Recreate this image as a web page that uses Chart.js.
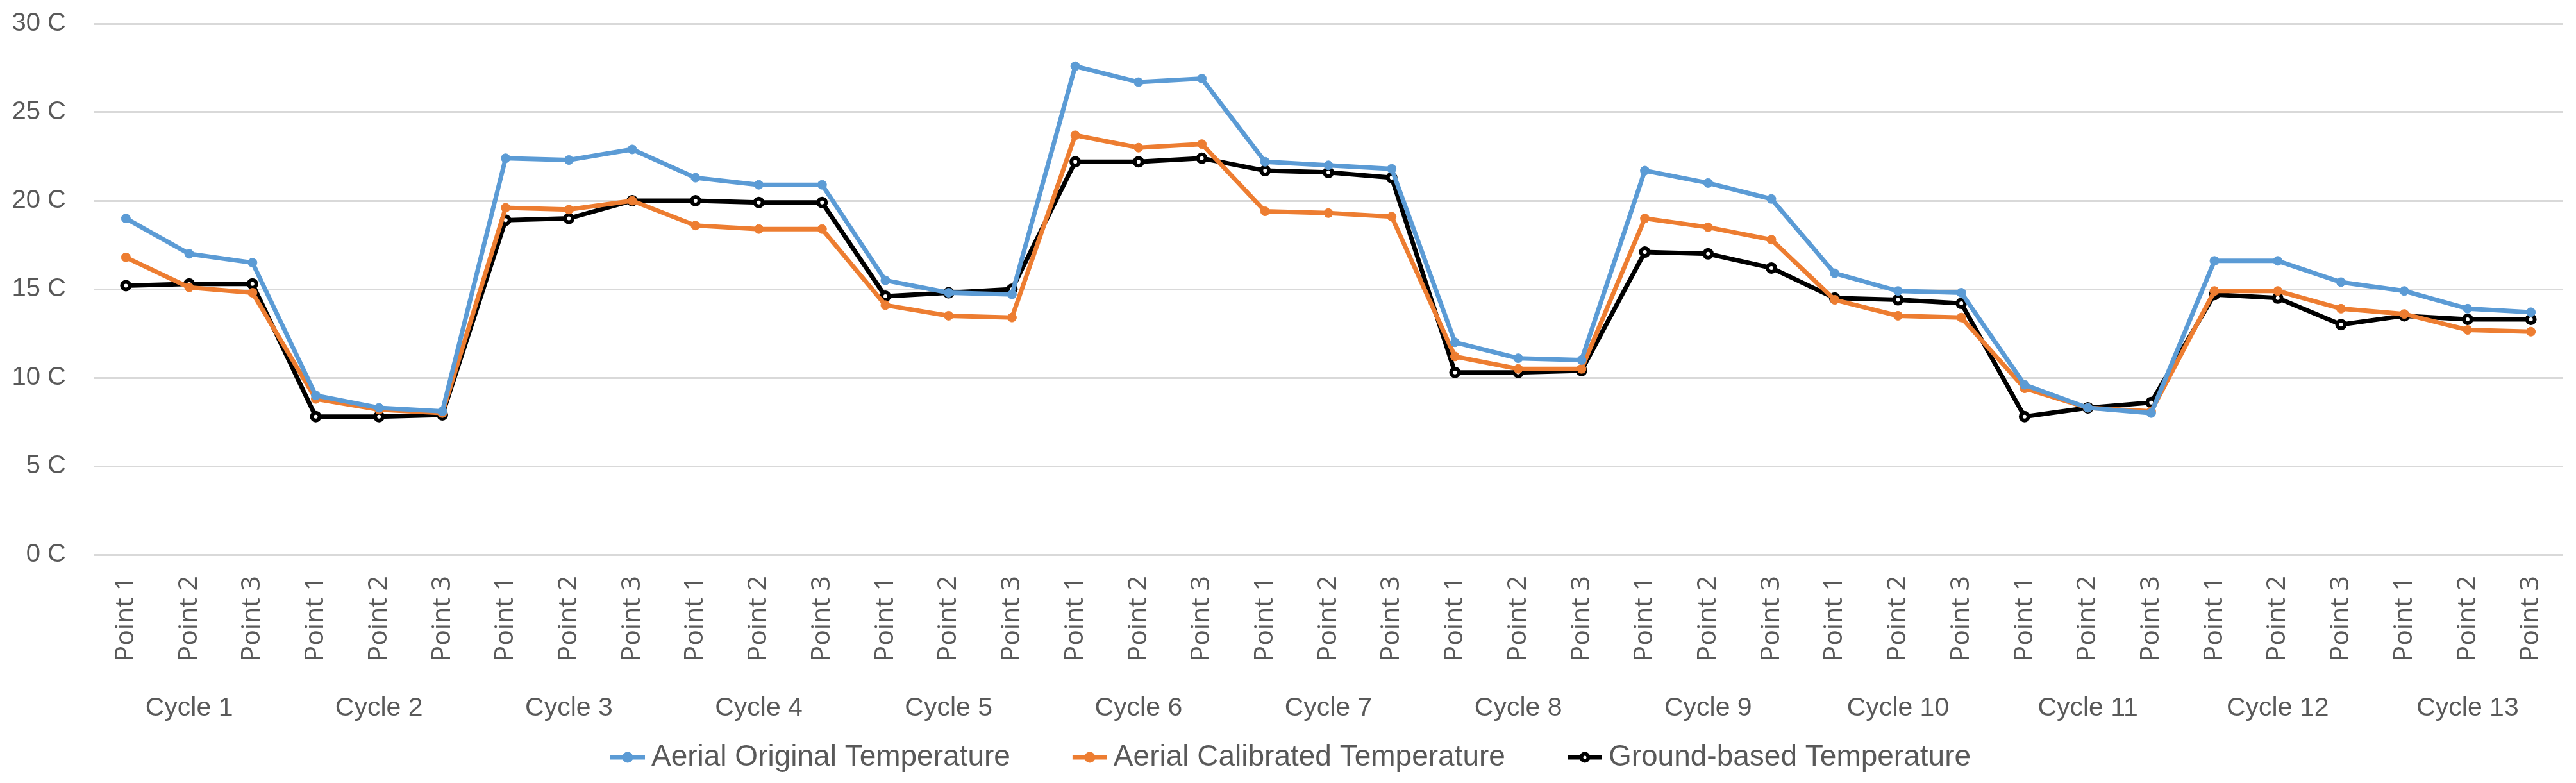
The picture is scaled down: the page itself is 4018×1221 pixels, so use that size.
<!DOCTYPE html>
<html lang="en">
<head>
  <meta charset="UTF-8" />
  <title>Aerial vs Ground Temperature</title>
  <script src="https://cdn.jsdelivr.net/npm/chart.js"></script>
  <style>
    html, body { margin: 0; padding: 0; background: #fff; overflow: hidden; }
    #wrap { width: 4018px; height: 1221px; }
    canvas { display: block; }
  </style>
</head>
<body>
  <div id="wrap"><canvas id="chart" width="4018" height="1221"></canvas></div>

  <script>
    const cycles = ['Cycle 1', 'Cycle 2', 'Cycle 3', 'Cycle 4', 'Cycle 5', 'Cycle 6', 'Cycle 7',
                    'Cycle 8', 'Cycle 9', 'Cycle 10', 'Cycle 11', 'Cycle 12', 'Cycle 13'];
    const pointNames = ['Point 1', 'Point 2', 'Point 3'];
    const yTicks = [0, 5, 10, 15, 20, 25, 30];

    const aerialOriginal = [
      19.0, 17.0, 16.5,   9.0, 8.3, 8.1,   22.4, 22.3, 22.9,   21.3, 20.9, 20.9,
      15.5, 14.8, 14.7,   27.6, 26.7, 26.9,   22.2, 22.0, 21.8,   12.0, 11.1, 11.0,
      21.7, 21.0, 20.1,   15.9, 14.9, 14.8,   9.6, 8.3, 8.0,   16.6, 16.6, 15.4,
      14.9, 13.9, 13.7
    ];
    const aerialCalibrated = [
      16.8, 15.1, 14.8,   8.8, 8.2, 8.0,   19.6, 19.5, 20.0,   18.6, 18.4, 18.4,
      14.1, 13.5, 13.4,   23.7, 23.0, 23.2,   19.4, 19.3, 19.1,   11.2, 10.5, 10.5,
      19.0, 18.5, 17.8,   14.4, 13.5, 13.4,   9.4, 8.3, 8.1,   14.9, 14.9, 13.9,
      13.6, 12.7, 12.6
    ];
    const groundBased = [
      15.2, 15.3, 15.3,   7.8, 7.8, 7.9,   18.9, 19.0, 20.0,   20.0, 19.9, 19.9,
      14.6, 14.8, 15.0,   22.2, 22.2, 22.4,   21.7, 21.6, 21.3,   10.3, 10.3, 10.4,
      17.1, 17.0, 16.2,   14.5, 14.4, 14.2,   7.8, 8.3, 8.6,   14.7, 14.5, 13.0,
      13.5, 13.3, 13.3
    ];

    const labels = cycles.flatMap(() => pointNames);
    const textColor = '#595959';
    const sans = '"Liberation Sans", Arial, sans-serif';

    // legend swatch: line with a dot, drawn at the right side of a wider image
    // so the legend gets Excel-like gaps between entries
    function swatch(color, fill) {
      const c = document.createElement('canvas');
      c.width = 142; c.height = 24;
      const g = c.getContext('2d');
      g.strokeStyle = color; g.lineWidth = 7;
      g.beginPath(); g.moveTo(88, 12); g.lineTo(142, 12); g.stroke();
      g.fillStyle = color;
      g.beginPath(); g.arc(115, 12, 8.5, 0, Math.PI * 2); g.fill();
      if (fill) { g.fillStyle = fill; g.beginPath(); g.arc(115, 12, 2.5, 0, Math.PI * 2); g.fill(); }
      return c;
    }

    function series(label, data, color, marker) {
      return {
        label, data,
        borderColor: color,
        backgroundColor: color,
        borderWidth: 7,
        pointRadius: marker ? 6 : 7,
        pointBorderWidth: marker ? 6 : 1,
        pointBackgroundColor: marker || color,
        pointBorderColor: color,
        pointStyle: 'circle',
        tension: 0,
        legendSwatch: swatch(color, marker)
      };
    }

    // fixed box sizes so the plot sits where the original one does
    const fixBox = (h) => (scale) => {
      scale.height = h;
      scale.paddingLeft = 0; scale.paddingRight = 0;
    };

    const legendBox = {
      id: 'legendBox',
      beforeInit(chart) {
        const fit = chart.legend.fit;
        chart.legend.fit = function () { fit.call(this); this.height = 85; };
      },
      afterLayout(chart) {
        chart.legend.left -= 32;
        chart.legend.right -= 32;
      }
    };

    new Chart(document.getElementById('chart'), {
      type: 'line',
      data: {
        labels,
        datasets: [
          series('Aerial Original Temperature', aerialOriginal, '#5B9BD5'),
          series('Aerial Calibrated Temperature', aerialCalibrated, '#ED7D31'),
          series('Ground-based Temperature', groundBased, '#000000', '#ffffff')
        ]
      },
      plugins: [legendBox],
      options: {
        responsive: false,
        animation: false,
        devicePixelRatio: 1,
        layout: { padding: { left: 18, right: 21, top: 37, bottom: 0 } },
        plugins: {
          tooltip: { enabled: false },
          legend: {
            position: 'bottom',
            labels: {
              usePointStyle: true,
              pointStyleWidth: 116,
              padding: 22,
              color: textColor,
              font: { family: sans, size: 46 },
              generateLabels(chart) {
                return chart.data.datasets.map((ds, i) => ({
                  text: ds.label,
                  fontColor: textColor,
                  pointStyle: ds.legendSwatch,
                  lineWidth: 0,
                  strokeStyle: 'transparent',
                  fillStyle: 'transparent',
                  hidden: false,
                  datasetIndex: i
                }));
              }
            }
          }
        },
        scales: {
          x: {
            offset: true,
            grid: { display: false, drawTicks: false },
            border: { display: false },
            afterFit: fixBox(170),
            ticks: {
              autoSkip: false,
              minRotation: 90,
              maxRotation: 90,
              padding: 33,
              color: textColor,
              font: { family: '"Open Sans", sans-serif', size: 41 }
            }
          },
          x2: {
            type: 'category',
            labels: cycles,
            position: 'bottom',
            offset: true,
            grid: { display: false, drawTicks: false },
            border: { display: false },
            afterFit: fixBox(101),
            ticks: {
              autoSkip: false,
              maxRotation: 0,
              padding: 45,
              color: textColor,
              font: { family: sans, size: 41 }
            }
          },
          y: {
            min: 0,
            max: 30,
            afterBuildTicks(scale) { scale.ticks = yTicks.map(v => ({ value: v })); },
            afterFit(scale) {
              scale.width = 129;
              scale.paddingTop = 0; scale.paddingBottom = 0;
            },
            grid: { color: '#D9D9D9', lineWidth: 3, drawTicks: false },
            border: { display: false },
            ticks: {
              padding: 44,
              color: textColor,
              font: { family: sans, size: 40 },
              callback: v => v + ' C'
            }
          }
        }
      }
    });
  </script>
</body>
</html>
